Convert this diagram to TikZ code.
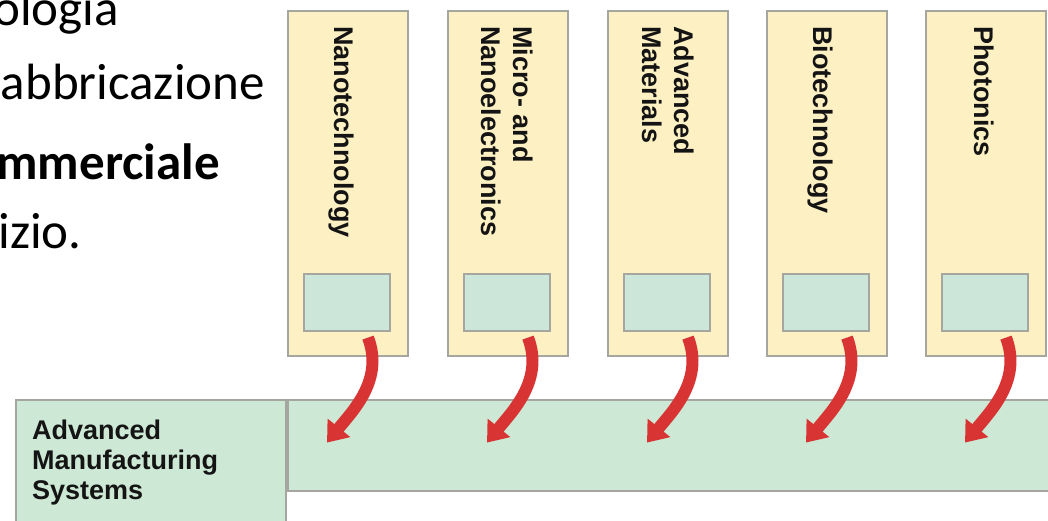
\documentclass[tikz,border=0pt]{standalone}
\usepackage{fontspec}
\setmainfont{Carlito}
\newfontfamily\labelfont{Liberation Sans}
\usetikzlibrary{arrows.meta,calc}
\definecolor{colfill}{HTML}{FDF0C3}
\definecolor{colborder}{HTML}{A6A6A0}
\definecolor{innerfill}{HTML}{CCE6DA}
\definecolor{barfill}{HTML}{CDE8D4}
\definecolor{arrowred}{HTML}{D83434}
\tikzset{
  colbox/.style={draw=colborder, line width=1.6pt, fill=colfill, minimum width=120pt, minimum height=345pt, anchor=north west, inner sep=0pt},
  innerbox/.style={draw=colborder, line width=1.6pt, fill=innerfill, minimum width=86pt, minimum height=57pt, anchor=north, inner sep=0pt},
  barbox/.style={draw=colborder, line width=1.6pt, fill=barfill, inner sep=0pt},
  coltext/.style={rotate=-90, anchor=west, align=left, inner sep=0pt, font=\labelfont\bfseries\fontsize{27}{32}\selectfont, text=black!92},
  slidetext/.style={anchor=base east, inner sep=0pt, font=\fontsize{51}{60}\selectfont},
  flow/.style={draw=arrowred, line width=12pt, -{Triangle[width=28pt,length=19pt]}}
}
\begin{document}
\begin{tikzpicture}[x=1pt,y=-1pt]
\useasboundingbox (0,0) rectangle (1048,521);
\clip (0,0) rectangle (1048,521);
\fill[white] (0,0) rectangle (1048,521);
% slide text
\node[slidetext] (l1) at (119,26) {ologia};
\node[slidetext] (l2) at (265,100) {abbricazione};
\node[slidetext, font=\bfseries\fontsize{51}{60}\selectfont] (l3) at (220,180) {mmerciale};
\node[slidetext] (l4) at (82,248) {izio.};
% bottom bar
\node[barbox, minimum width=790pt, minimum height=91pt, anchor=north west] (bar) at (287,399) {};
\node[barbox, minimum width=270pt, minimum height=150pt, anchor=north east] (ams) at (287,399) {};
\node[anchor=north west, align=left, inner sep=0pt, font=\labelfont\bfseries\fontsize{27}{30}\selectfont, text=black!92] (amst) at (32,420) {Advanced\\Manufacturing\\Systems};
% columns
\foreach \i/\x in {1/287,2/447,3/607,4/766,5/925}{
  \node[colbox] (c\i) at (\x,10) {};
  \node[innerbox] (in\i) at (\x+60,273) {};
}
\node[coltext] (t1) at (341,26) {Nanotechnology};
\node[coltext] (t2) at (507,26) {Micro- and\\Nanoelectronics};
\node[coltext] (t3) at (668,26) {Advanced\\Materials};
\node[coltext] (t4) at (820,26) {Biotechnology};
\node[coltext] (t5) at (984,26) {Photonics};
% arrows
\foreach \i in {1,...,5}{
  \coordinate (s\i) at ($(in\i.south)+(21,6)$);
  \coordinate (e\i) at ($(in\i.south)+(-20,111)$);
  \draw[flow] (s\i) .. controls +(16,42) and +(26,-32) .. (e\i);
}
\end{tikzpicture}
\end{document}
